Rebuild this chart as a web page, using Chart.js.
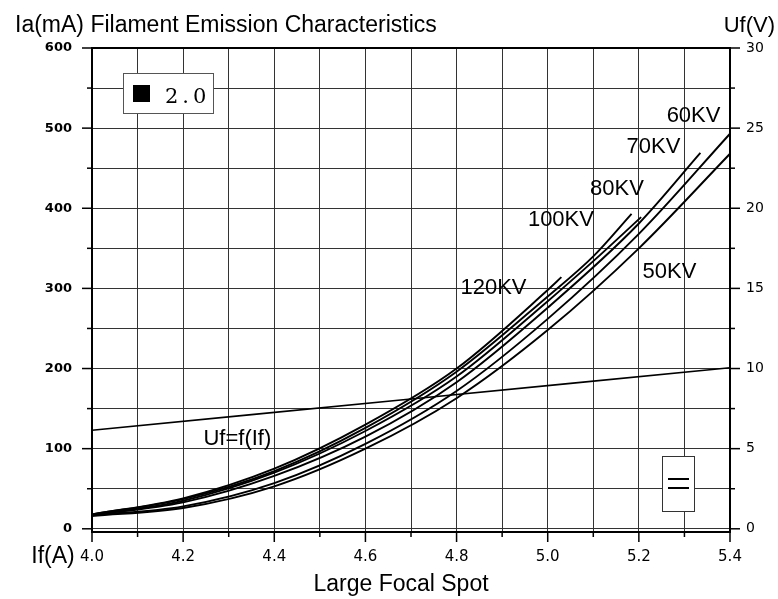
<!DOCTYPE html>
<html>
<head>
<meta charset="utf-8">
<script src="https://cdn.jsdelivr.net/npm/chart.js@4.4.1/dist/chart.umd.min.js"></script>
<style>
    html, body { margin: 0; padding: 0; background: #fff; }
    #wrap { width: 778px; height: 599px; }
</style>
</head>
<body>
<div id="wrap"><canvas id="chart" width="778" height="599"></canvas></div>
<script>
// Ejes
const xTicks = [4.0, 4.1, 4.2, 4.3, 4.4, 4.5, 4.6, 4.7, 4.8, 4.9, 5.0, 5.1, 5.2, 5.3, 5.4];
const xTickLabels = ['4.0', '', '4.2', '', '4.4', '', '4.6', '', '4.8', '', '5.0', '', '5.2', '', '5.4'];
const iaTicks = [0, 50, 100, 150, 200, 250, 300, 350, 400, 450, 500, 550, 600];
const iaTickLabels = ['0', '', '100', '', '200', '', '300', '', '400', '', '500', '', '600'];
const ufTicks = [0, 2.5, 5, 7.5, 10, 12.5, 15, 17.5, 20, 22.5, 25, 27.5, 30];
const ufTickLabels = ['0', '', '5', '', '10', '', '15', '', '20', '', '25', '', '30'];

// Curvas Ia = f(If) por tension (kV)
const curveNames = ['50KV', '60KV', '70KV', '80KV', '100KV', '120KV'];
const if50 = [4.0, 4.2, 4.4, 4.6, 4.8, 5.0, 5.2, 5.4];
const ia50 = [16, 26, 53, 100, 163, 248, 350, 468];
const if60 = [4.0, 4.2, 4.4, 4.6, 4.8, 5.0, 5.2, 5.4];
const ia60 = [17, 28, 57, 106, 172, 262, 368, 493];
const if70 = [4.0, 4.2, 4.4, 4.6, 4.8, 5.0, 5.2, 5.335];
const ia70 = [17, 33, 66, 115, 183, 276, 381, 469];
const if80 = [4.0, 4.2, 4.4, 4.6, 4.8, 5.0, 5.1, 5.205];
const ia80 = [17, 35, 70, 122, 190, 284, 334, 389];
const if100 = [4.0, 4.2, 4.4, 4.6, 4.8, 5.0, 5.1, 5.184];
const ia100 = [18, 37, 72, 126, 196, 290, 340, 393];
const if120 = [4.0, 4.2, 4.4, 4.6, 4.8, 5.0, 5.03];
const ia120 = [18, 38, 75, 130, 200, 298, 314];

// Uf = f(If) en el eje derecho
const ifUf = [4.0, 4.7, 5.4];
const ufValues = [6.15, 8.1, 10.05];

// Posicion de las etiquetas de curva (coordenadas de datos)
const curveLabelPos = [
    { text: '50KV', x: 5.267, y: 321 },
    { text: '60KV', x: 5.320, y: 515 },
    { text: '70KV', x: 5.232, y: 477 },
    { text: '80KV', x: 5.152, y: 424 },
    { text: '100KV', x: 5.029, y: 385 },
    { text: '120KV', x: 4.881, y: 300 },
    { text: 'Uf=f(If)', x: 4.319, y: 112 }
];

const toPts = (xs, ys) => xs.map((x, i) => ({ x, y: ys[i] }));
const curveX = [if50, if60, if70, if80, if100, if120];
const curveY = [ia50, ia60, ia70, ia80, ia100, ia120];

const datasets = curveNames.map((name, k) => ({
    label: name,
    data: toPts(curveX[k], curveY[k]),
    yAxisID: 'y',
    borderColor: '#000',
    borderWidth: 1.9,
    pointRadius: 0,
    cubicInterpolationMode: 'monotone',
    fill: false
}));
datasets.push({
    label: 'Uf',
    data: toPts(ifUf, ufValues),
    yAxisID: 'y2',
    borderColor: '#000',
    borderWidth: 1.6,
    pointRadius: 0,
    tension: 0.2,
    fill: false
});

function line(ctx, x1, y1, x2, y2) {
    ctx.beginPath();
    ctx.moveTo(x1, y1);
    ctx.lineTo(x2, y2);
    ctx.stroke();
}

// Marcas de ejes, textos y cajas
const decorPlugin = {
    id: 'decor',
    afterDatasetsDraw(chart) {
        const { ctx, scales } = chart;
        ctx.save();
        ctx.fillStyle = '#000';
        ctx.font = '22px "Liberation Sans", Arial, sans-serif';
        ctx.textAlign = 'center';
        ctx.textBaseline = 'middle';
        curveLabelPos.forEach(l => {
            ctx.fillText(l.text, scales.x.getPixelForValue(l.x), scales.y.getPixelForValue(l.y));
        });
        ctx.restore();
    },
    afterDraw(chart) {
        const { ctx, chartArea: ca, scales } = chart;
        ctx.save();
        ctx.strokeStyle = '#000';
        ctx.lineWidth = 1.5;

        xTicks.forEach((v, i) => {
            const px = scales.x.getPixelForValue(v);
            line(ctx, px, ca.bottom, px, ca.bottom + (xTickLabels[i] ? 10 : 5));
        });
        iaTicks.forEach((v, i) => {
            const py = scales.y.getPixelForValue(v);
            line(ctx, ca.left, py, ca.left - (iaTickLabels[i] ? 10 : 5), py);
        });
        ufTicks.forEach((v, i) => {
            const py = scales.y2.getPixelForValue(v);
            line(ctx, ca.right, py, ca.right + (ufTickLabels[i] ? 10 : 5), py);
        });

        // Titulos
        ctx.fillStyle = '#000';
        ctx.font = '23px "Liberation Sans", Arial, sans-serif';
        ctx.textBaseline = 'alphabetic';
        ctx.textAlign = 'left';
        ctx.fillText('Ia(mA) Filament Emission Characteristics', 15, 32);
        ctx.font = '22px "Liberation Sans", Arial, sans-serif';
        ctx.textAlign = 'right';
        ctx.fillText('Uf(V)', 775, 32);
        ctx.font = '23px "Liberation Sans", Arial, sans-serif';
        ctx.textAlign = 'center';
        ctx.fillText('If(A)', 53, 563);
        ctx.fillText('Large Focal Spot', 401, 591);

        // Caja "2.0" arriba a la izquierda
        const bx = ca.left + 31, by = ca.top + 25;
        ctx.fillStyle = '#fff';
        ctx.fillRect(bx, by, 91, 41);
        ctx.strokeStyle = '#555';
        ctx.lineWidth = 1;
        ctx.strokeRect(bx + 0.5, by + 0.5, 90, 40);
        ctx.fillStyle = '#000';
        ctx.fillRect(bx + 10, by + 12, 17, 17);
        ctx.font = '21px "DejaVu Serif", "Liberation Serif", serif';
        ctx.textAlign = 'left';
        ctx.letterSpacing = '4px';
        ctx.fillText('2.0', bx + 42, by + 30);
        ctx.letterSpacing = '0px';

        // Caja "=" abajo a la derecha
        const ex = ca.right - 68, ey = ca.bottom - 76;
        ctx.fillStyle = '#fff';
        ctx.fillRect(ex, ey, 33, 56);
        ctx.strokeStyle = '#333';
        ctx.strokeRect(ex + 0.5, ey + 0.5, 32, 55);
        ctx.lineWidth = 2;
        ctx.strokeStyle = '#000';
        line(ctx, ex + 6, ey + 23, ex + 27, ey + 23);
        line(ctx, ex + 6, ey + 32, ex + 27, ey + 32);
        ctx.restore();
    }
};

const tickFont = { family: '"DejaVu Sans", sans-serif', size: 15 };

new Chart(document.getElementById('chart'), {
    type: 'line',
    data: { datasets },
    options: {
        responsive: false,
        animation: false,
        layout: { padding: { top: 48, left: 0, right: 0, bottom: 0 } },
        plugins: {
            legend: { display: false },
            tooltip: { enabled: false }
        },
        scales: {
            x: {
                type: 'linear',
                position: 'bottom',
                min: 4.0,
                max: 5.4,
                afterBuildTicks: s => { s.ticks = xTicks.map(v => ({ value: v })); },
                afterFit: s => { s.height = 67; },
                grid: { color: '#333', lineWidth: 1, drawTicks: false },
                border: { color: '#000', width: 2 },
                ticks: {
                    color: '#000',
                    font: tickFont,
                    padding: 16,
                    maxRotation: 0,
                    autoSkip: false,
                    callback: (v, i) => xTickLabels[i]
                }
            },
            y: {
                type: 'linear',
                position: 'left',
                min: -4,
                max: 600,
                afterBuildTicks: s => { s.ticks = iaTicks.map(v => ({ value: v })); },
                afterFit: s => { s.width = 92; },
                grid: {
                    color: ctx => ctx.tick && ctx.tick.value === 600 ? '#000' : '#333',
                    lineWidth: ctx => ctx.tick && ctx.tick.value === 600 ? 2 : 1,
                    drawTicks: false
                },
                border: { color: '#000', width: 2 },
                ticks: {
                    color: '#000',
                    font: { family: '"DejaVu Sans", sans-serif', size: 13, weight: 'bold' },
                    padding: 20,
                    autoSkip: false,
                    callback: (v, i) => iaTickLabels[i]
                }
            },
            y2: {
                type: 'linear',
                position: 'right',
                min: -0.2,
                max: 30,
                afterBuildTicks: s => { s.ticks = ufTicks.map(v => ({ value: v })); },
                afterFit: s => { s.width = 48; },
                grid: { drawOnChartArea: false, drawTicks: false },
                border: { color: '#000', width: 2 },
                ticks: {
                    color: '#000',
                    font: { family: '"DejaVu Sans", sans-serif', size: 14 },
                    padding: 16,
                    autoSkip: false,
                    callback: (v, i) => ufTickLabels[i]
                }
            }
        }
    },
    plugins: [decorPlugin]
});
</script>
</body>
</html>
